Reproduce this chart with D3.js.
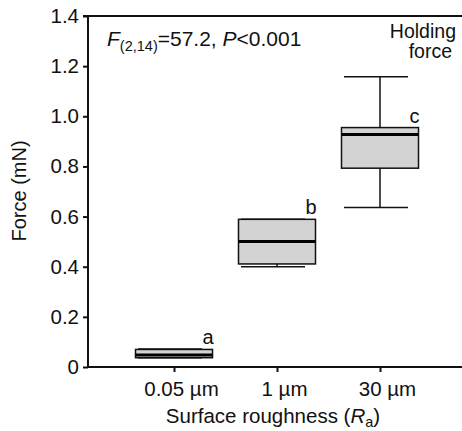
<!DOCTYPE html>
<html><head><meta charset="utf-8">
<script src="https://cdn.jsdelivr.net/npm/d3@7"></script>
<style>body{margin:0;background:#fff}svg{display:block}text{font-family:"Liberation Sans",Arial,sans-serif;fill:#111}</style>
</head><body>
<svg id="c" width="462" height="431"></svg>
<script>
const categories = ["0.05 µm", "1 µm", "30 µm"];
const whiskerLow  = [0.037, 0.40, 0.636];
const q1          = [0.037, 0.411, 0.793];
const medians     = [0.048, 0.501, 0.927];
const q3          = [0.070, 0.589, 0.955];
const whiskerHigh = [0.072, 0.589, 1.158];
const letters     = ["a", "b", "c"];
const yTicks      = [0, 0.2, 0.4, 0.6, 0.8, 1.0, 1.2, 1.4];
const yTickLabels = ["0", "0.2", "0.4", "0.6", "0.8", "1.0", "1.2", "1.4"];

const FONT = '"Liberation Sans",Arial,sans-serif';
const svg = d3.select("#c");
const x0 = 88, xR = 462, yTop = 16, yBot = 367;
const y = d3.scaleLinear().domain([0, 1.4]).range([yBot, yTop]);
const x = d3.scalePoint().domain(categories).range([174, 380]);
const boxW = 77, capW = 64, capShift = -4;

// top frame line
svg.append("line").attr("x1", x0).attr("x2", xR).attr("y1", yTop).attr("y2", yTop)
  .attr("stroke", "#111").attr("stroke-width", 2);

// y axis
const yAxis = d3.axisLeft(y).tickValues(yTicks).tickFormat((d, i) => yTickLabels[i]).tickSize(5).tickPadding(4);
const gy = svg.append("g").attr("transform", `translate(${x0},0)`).call(yAxis);
gy.select(".domain").attr("stroke", "#111").attr("stroke-width", 2).attr("d", `M-5,${yTop}H0V${yBot}`);
gy.selectAll(".tick line").attr("stroke", "#111").attr("stroke-width", 2);
gy.selectAll(".tick text").style("font-size", "20.5px").attr("fill", "#111").style("font-family", FONT);

// x axis
const xAxis = d3.axisBottom(x).tickSize(5).tickPadding(9);
const gx = svg.append("g").attr("transform", `translate(0,${yBot})`).call(xAxis);
gx.select(".domain").attr("stroke", "#111").attr("stroke-width", 2).attr("d", `M${x0},0H${xR}`);
gx.selectAll(".tick line").attr("stroke", "#111").attr("stroke-width", 2);
gx.selectAll(".tick text").style("font-size", "20.5px").attr("fill", "#111").attr("dx", 7).attr("dy", "0.71em")
  .style("font-family", FONT);

// boxes
const data = categories.map((c, i) => ({c, lo: whiskerLow[i], q1: q1[i], med: medians[i], q3: q3[i], hi: whiskerHigh[i], l: letters[i]}));
const g = svg.append("g");
data.forEach(d => {
  const cx = x(d.c);
  if (d.hi > d.q3) {
    g.append("line").attr("x1", cx).attr("x2", cx).attr("y1", y(d.q3)).attr("y2", y(d.hi)).attr("stroke", "#111").attr("stroke-width", 1.5);
  }
  if (d.lo < d.q1) {
    g.append("line").attr("x1", cx).attr("x2", cx).attr("y1", y(d.q1)).attr("y2", y(d.lo)).attr("stroke", "#111").attr("stroke-width", 1.5);
  }
  g.append("line").attr("x1", cx - capW/2 + capShift).attr("x2", cx + capW/2 + capShift).attr("y1", y(d.hi)).attr("y2", y(d.hi)).attr("stroke", "#111").attr("stroke-width", 1.5);
  g.append("line").attr("x1", cx - capW/2 + capShift).attr("x2", cx + capW/2 + capShift).attr("y1", y(d.lo)).attr("y2", y(d.lo)).attr("stroke", "#111").attr("stroke-width", 1.5);
  g.append("rect").attr("x", cx - boxW/2).attr("width", boxW).attr("y", y(d.q3)).attr("height", y(d.q1) - y(d.q3))
    .attr("fill", "#d3d3d3").attr("stroke", "#111").attr("stroke-width", 1.5);
  g.append("line").attr("x1", cx - boxW/2).attr("x2", cx + boxW/2).attr("y1", y(d.med)).attr("y2", y(d.med)).attr("stroke", "#000").attr("stroke-width", 3);
  g.append("text").attr("x", cx + boxW/2 + 1).attr("y", y(d.q3) - 5).attr("text-anchor", "end").style("font-size", "20px").text(d.l);
});

// stats
const st = svg.append("text").attr("x", 107).attr("y", 46).style("font-size", "21px");
st.append("tspan").style("font-style", "italic").text("F");
st.append("tspan").attr("dy", 5).style("font-size", "14.5px").text("(2,14)");
st.append("tspan").attr("dy", -5).text("=57.2, ");
st.append("tspan").style("font-style", "italic").text("P");
st.append("tspan").text("<0.001");

svg.append("text").attr("x", 456).attr("y", 38).attr("text-anchor", "end").style("font-size", "19.5px").text("Holding");
svg.append("text").attr("x", 452).attr("y", 58).attr("text-anchor", "end").style("font-size", "19.5px").text("force");

// axis titles
const xt = svg.append("text").attr("x", 273).attr("y", 423).attr("text-anchor", "middle").style("font-size", "20.5px");
xt.append("tspan").text("Surface roughness (");
xt.append("tspan").style("font-style", "italic").text("R");
xt.append("tspan").attr("dy", 4).style("font-size", "14.5px").text("a");
xt.append("tspan").attr("dy", -4).text(")");

svg.append("text").attr("transform", "translate(26,191) rotate(-90)").attr("text-anchor", "middle").style("font-size", "20px").text("Force (mN)");
</script>
</body></html>
